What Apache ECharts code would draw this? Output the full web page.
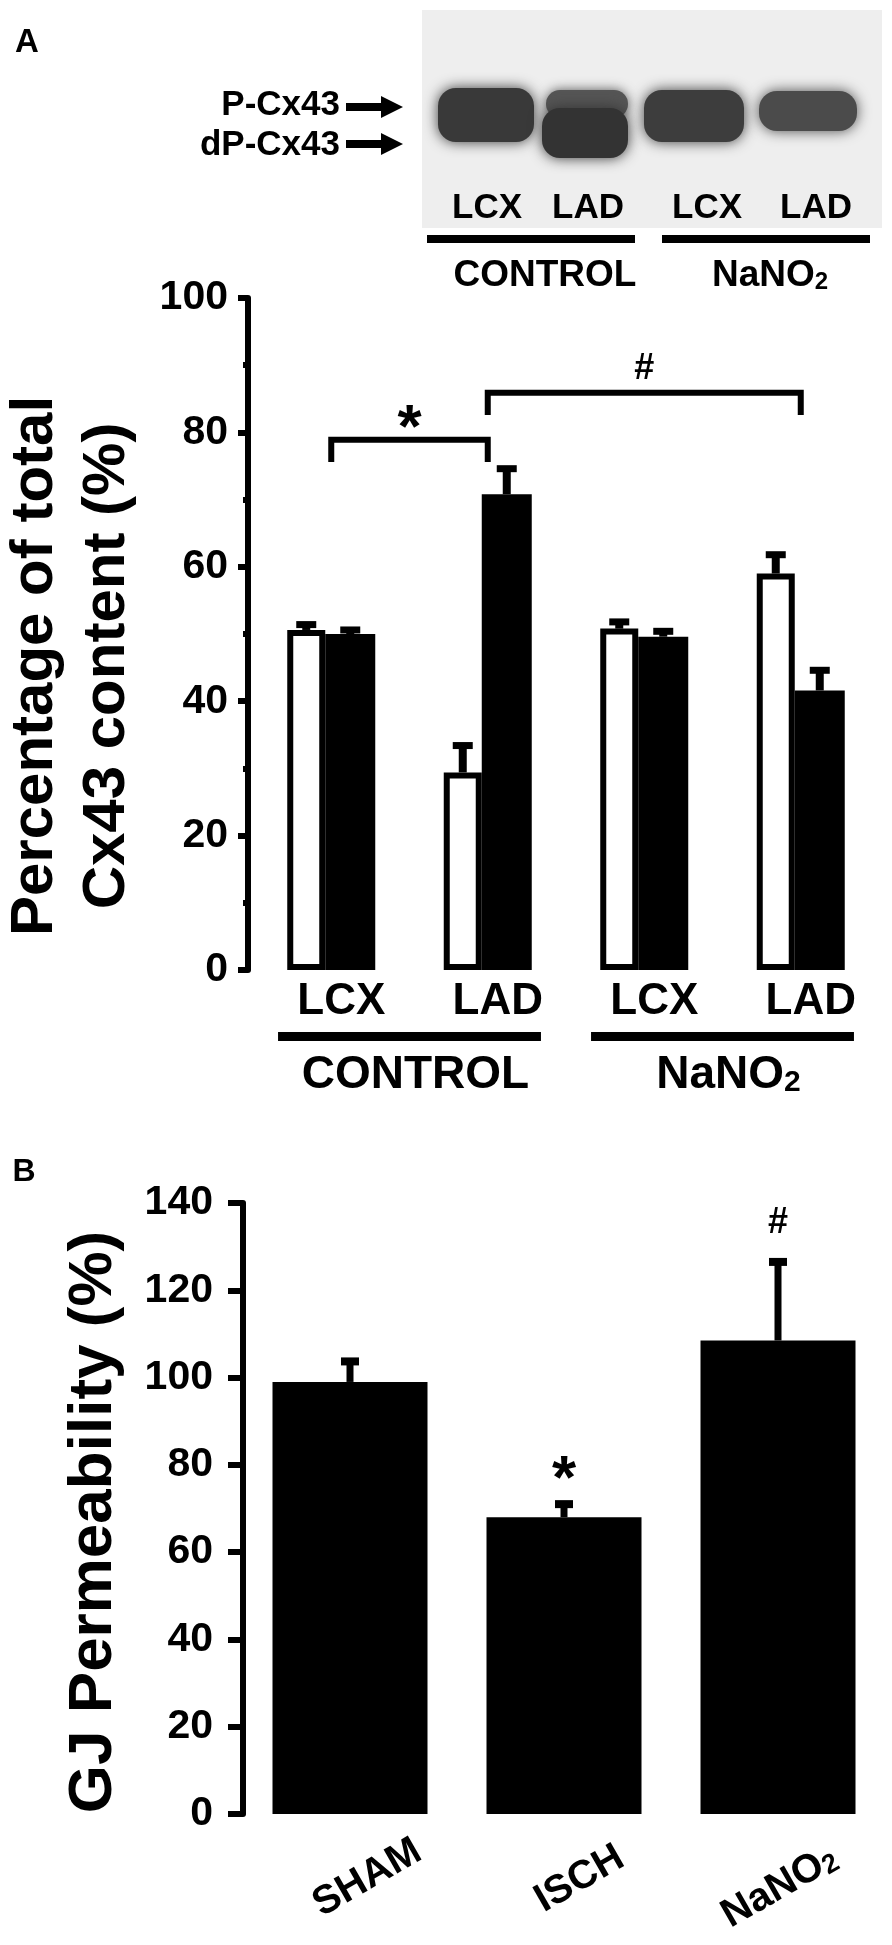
<!DOCTYPE html>
<html>
<head>
<meta charset="utf-8">
<script src="https://cdn.jsdelivr.net/npm/echarts@6/dist/echarts.min.js"></script>
<style>
html,body{margin:0;padding:0;background:#ffffff;}
#chart{width:892px;height:1945px;}
</style>
</head>
<body>
<div id="chart"></div>
<script>
// ---------- Panel A data ----------
const laneCategories = ['LCX', 'LAD', 'LCX', 'LAD'];
const groupNames = ['CONTROL', 'NaNO2'];
const groupFrom = [0, 2];
const groupTo = [1, 3];
const pCx43Values = [50.6, 29.4, 50.8, 59.0];
const pCx43Errors = [0.8, 4.0, 1.0, 2.8];
const dpCx43Values = [50.0, 70.8, 49.6, 41.6];
const dpCx43Errors = [0.6, 3.8, 0.8, 3.0];
const aYTicks = [0, 20, 40, 60, 80, 100];
const aTitleLines = ['Percentage of total', 'Cx43 content (%)'];
const bracketFrom = [0, 1];
const bracketTo = [1, 3];
const bracketLevel = [78.9, 85.9];
const bracketLegEnd = [75.6, 82.6];
const bracketMark = ['*', '#'];
const bracketMarkLevel = [82.4, 89.4];

// ---------- Panel B data ----------
const gjCategories = ['SHAM', 'ISCH', 'NaNO2'];
const gjValues = [99.0, 68.0, 108.5];
const gjErrors = [4.7, 3.0, 18.0];
const gjYTicks = [0, 20, 40, 60, 80, 100, 120, 140];
const bTitle = 'GJ Permeability (%)';
const gjMarkIndex = [1, 2];
const gjMarkLevel = [79.4, 135.4];
const gjMark = ['*', '#'];

// ---------- styling helpers ----------
const F = '"Liberation Sans", Arial, Helvetica, sans-serif';
const gjLabelShift = [40, 36, 4];   // px spacer in front of each rotated label
function markSize(mark) { return mark === '*' ? 62 : 36; }
function markDy(mark, size) { return mark === '*' ? 0.22 * size : 0; }

function band(x, y, w, h, color, blur) {
  return { type: 'rect', silent: true,
    shape: { x: x, y: y, width: w, height: h, r: Math.min(h / 2, 18) },
    style: { fill: color, shadowBlur: blur, shadowColor: color } };
}
function arrow(x0, x1, y) {
  const hx = x1 - 22;
  return { type: 'polygon', silent: true,
    shape: { points: [[x0, y - 4], [hx, y - 4], [hx, y - 11], [x1, y], [hx, y + 11], [hx, y + 4], [x0, y + 4]] },
    style: { fill: '#000' } };
}
function txt(x, y, text, size, align) {
  return { type: 'text', x: x, y: y, silent: true,
    style: { text: text, fontSize: size, fontWeight: 'bold', fontFamily: F, fill: '#000',
      align: align || 'center', verticalAlign: 'middle' } };
}
function vtxt(x, y, text, size, lineHeight) {
  return { type: 'text', x: x, y: y, rotation: Math.PI / 2, silent: true,
    style: { text: text, fontSize: size, fontWeight: 'bold', fontFamily: F, fill: '#000',
      lineHeight: lineHeight, align: 'center', verticalAlign: 'middle' } };
}
function subRich(main, sub, subLH) {
  return {
    m: { fontSize: main, fontWeight: 'bold', fontFamily: F, color: '#000', fill: '#000', lineHeight: main },
    s: { fontSize: sub, fontWeight: 'bold', fontFamily: F, color: '#000', fill: '#000', lineHeight: subLH, verticalAlign: 'bottom' }
  };
}

const blotLaneX = [487, 588, 707, 816];
const graphics = [
  txt(27, 43, 'A', 33),
  txt(24, 1172, 'B', 32),
  // western blot picture
  { type: 'rect', silent: true, shape: { x: 422, y: 10, width: 460, height: 218 }, style: { fill: '#eeeeee' } },
  band(438, 88, 96, 54, '#393939', 14),
  band(546, 90, 82, 28, '#555555', 12),
  band(542, 108, 86, 50, '#333333', 14),
  band(644, 90, 100, 52, '#3d3d3d', 14),
  band(759, 91, 98, 40, '#4b4b4b', 14),
  { type: 'rect', silent: true, shape: { x: 427, y: 235, width: 208, height: 8 }, style: { fill: '#000' } },
  { type: 'rect', silent: true, shape: { x: 662, y: 235, width: 208, height: 8 }, style: { fill: '#000' } },
  txt(545, 276, 'CONTROL', 37),
  { type: 'text', x: 770, y: 276, silent: true,
    style: { text: '{m|NaNO}{s|2}', rich: subRich(37, 24, 14), align: 'center', verticalAlign: 'middle', fill: '#000' } },
  txt(340, 105, 'P-Cx43', 35, 'right'),
  txt(340, 145, 'dP-Cx43', 35, 'right'),
  arrow(346, 403, 107),
  arrow(346, 403, 144),
  // axis titles
  vtxt(71, 666, aTitleLines.join('\n'), 60, 72),
  vtxt(94, 1522, bTitle, 62, 62)
];
laneCategories.forEach(function (name, i) { graphics.push(txt(blotLaneX[i], 208, name, 35)); });

// ---------- render functions ----------
function renderErrA(params, api) {
  const i = api.value(0), v = api.value(1), e = api.value(2), s = api.value(3);
  const base = api.coord([i, v]);
  const top = api.coord([i, v + e]);
  const x = base[0] + (s === 0 ? -25 : 19);
  return { type: 'group', children: [
    { type: 'line', shape: { x1: x, y1: base[1], x2: x, y2: top[1] }, style: { stroke: '#000', lineWidth: 8 } },
    { type: 'line', shape: { x1: x - 10, y1: top[1], x2: x + 10, y2: top[1] }, style: { stroke: '#000', lineWidth: 7 } }
  ] };
}
function renderErrB(params, api) {
  const i = api.value(0), v = api.value(1), e = api.value(2);
  const base = api.coord([i, v]);
  const top = api.coord([i, v + e]);
  const x = base[0];
  return { type: 'group', children: [
    { type: 'line', shape: { x1: x, y1: base[1], x2: x, y2: top[1] }, style: { stroke: '#000', lineWidth: 7 } },
    { type: 'line', shape: { x1: x - 9, y1: top[1], x2: x + 9, y2: top[1] }, style: { stroke: '#000', lineWidth: 8 } }
  ] };
}
function renderBracket(params, api) {
  const k = params.dataIndex;
  const p0 = api.coord([api.value(0), api.value(1)]);
  const p1 = api.coord([api.value(2), api.value(1)]);
  const leg = api.coord([api.value(0), api.value(3)])[1];
  const my = api.coord([api.value(0), api.value(4)])[1];
  const mk = bracketMark[k];
  const fs = markSize(mk);
  return { type: 'group', children: [
    { type: 'polyline', shape: { points: [[p0[0], leg], [p0[0], p0[1]], [p1[0], p1[1]], [p1[0], leg]] },
      style: { stroke: '#000', lineWidth: 6, fill: null } },
    { type: 'text', x: (p0[0] + p1[0]) / 2, y: my + markDy(mk, fs),
      style: { text: mk, fontSize: fs, fontWeight: 'bold', fontFamily: F, fill: '#000', align: 'center', verticalAlign: 'middle' } }
  ] };
}
function renderGroup(params, api) {
  const k = params.dataIndex;
  const c0 = api.coord([api.value(0), 0]);
  const c1 = api.coord([api.value(2), 0]);
  const bw = api.size([1, 0])[0];
  const left = c0[0] - 0.34 * bw, right = c1[0] + 0.34 * bw;
  const name = groupNames[k];
  const label = name === 'NaNO2'
    ? { text: '{m|NaNO}{s|2}', rich: subRich(46, 30, 16) }
    : { text: '{m|' + name + '}', rich: subRich(46, 30, 16) };
  return { type: 'group', children: [
    { type: 'rect', shape: { x: left, y: c0[1] + 62, width: right - left, height: 9 }, style: { fill: '#000' } },
    { type: 'text', x: (left + right) / 2 + 6, y: c0[1] + 105,
      style: Object.assign(label, { align: 'center', verticalAlign: 'middle', fill: '#000' }) }
  ] };
}
function renderMarkB(params, api) {
  const k = params.dataIndex;
  const p = api.coord([api.value(0), api.value(1)]);
  const mk = gjMark[k];
  const fs = markSize(mk);
  return { type: 'text', x: p[0], y: p[1] + markDy(mk, fs),
    style: { text: mk, fontSize: fs, fontWeight: 'bold', fontFamily: F, fill: '#000', align: 'center', verticalAlign: 'middle' } };
}

// ---------- chart ----------
const chart = echarts.init(document.getElementById('chart'), null, { width: 892, height: 1945 });
const tickLabel = { color: '#000', fontFamily: F, fontWeight: 'bold', fontSize: 41 };
const gjRich = { sp0: { width: gjLabelShift[0] }, sp1: { width: gjLabelShift[1] }, sp2: { width: gjLabelShift[2] } };
Object.assign(gjRich, subRich(40, 27, 14));

const option = {
  animation: false,
  backgroundColor: '#ffffff',
  graphic: graphics,
  grid: [
    { left: 253, top: 298, width: 626, height: 672, outerBoundsMode: 'none', containLabel: false },
    { left: 243, top: 1203, width: 642, height: 611, outerBoundsMode: 'none', containLabel: false }
  ],
  xAxis: [
    { gridIndex: 0, type: 'category', data: laneCategories,
      axisLine: { show: false }, axisTick: { show: false }, splitLine: { show: false },
      axisLabel: { color: '#000', fontFamily: F, fontWeight: 'bold', fontSize: 44, lineHeight: 44,
        verticalAlign: 'middle', margin: 32, padding: [0, 0, 0, 20] } },
    { gridIndex: 1, type: 'category', data: gjCategories,
      axisLine: { show: false }, axisTick: { show: false }, splitLine: { show: false },
      axisLabel: { rotate: 30, align: 'center', verticalAlign: 'middle', margin: 74,
        formatter: function (v, idx) {
          const sp = '{sp' + idx + '|}';
          return v === 'NaNO2' ? sp + '{m|NaNO}{s|2}' : sp + '{m|' + v + '}';
        },
        rich: gjRich } }
  ],
  yAxis: [
    { gridIndex: 0, type: 'value', offset: 5,
      min: aYTicks[0], max: aYTicks[aYTicks.length - 1], interval: aYTicks[1] - aYTicks[0],
      axisLine: { show: true, lineStyle: { color: '#000', width: 6 } },
      axisTick: { show: true, length: 10, lineStyle: { color: '#000', width: 6 } },
      minorTick: { show: true, splitNumber: 2, length: 5, lineStyle: { color: '#000', width: 6 } },
      splitLine: { show: false }, minorSplitLine: { show: false },
      axisLabel: Object.assign({ margin: 20 }, tickLabel) },
    { gridIndex: 1, type: 'value',
      min: gjYTicks[0], max: gjYTicks[gjYTicks.length - 1], interval: gjYTicks[1] - gjYTicks[0],
      axisLine: { show: true, lineStyle: { color: '#000', width: 6 } },
      axisTick: { show: true, length: 15, lineStyle: { color: '#000', width: 6 } },
      splitLine: { show: false },
      axisLabel: Object.assign({ margin: 30 }, tickLabel) }
  ],
  series: [
    { type: 'bar', name: 'P-Cx43', xAxisIndex: 0, yAxisIndex: 0, data: pCx43Values,
      barWidth: 38, barGap: '0%', itemStyle: { color: '#ffffff', borderColor: '#000', borderWidth: 6 } },
    { type: 'bar', name: 'dP-Cx43', xAxisIndex: 0, yAxisIndex: 0, data: dpCx43Values,
      barWidth: 50, barGap: '0%', itemStyle: { color: '#000' } },
    { type: 'custom', name: 'A error', xAxisIndex: 0, yAxisIndex: 0, renderItem: renderErrA, encode: { x: 0, y: 1 },
      data: pCx43Values.map(function (v, i) { return [i, v, pCx43Errors[i], 0]; })
        .concat(dpCx43Values.map(function (v, i) { return [i, v, dpCx43Errors[i], 1]; })) },
    { type: 'custom', name: 'A brackets', xAxisIndex: 0, yAxisIndex: 0, renderItem: renderBracket, encode: { x: 0, y: 1 },
      data: bracketFrom.map(function (f, i) { return [f, bracketLevel[i], bracketTo[i], bracketLegEnd[i], bracketMarkLevel[i]]; }) },
    { type: 'custom', name: 'A groups', xAxisIndex: 0, yAxisIndex: 0, renderItem: renderGroup, encode: { x: 0, y: 1 },
      data: groupFrom.map(function (f, i) { return [f, 0, groupTo[i]]; }) },
    { type: 'bar', name: 'GJ permeability', xAxisIndex: 1, yAxisIndex: 1, data: gjValues,
      barWidth: 155, itemStyle: { color: '#000' } },
    { type: 'custom', name: 'B error', xAxisIndex: 1, yAxisIndex: 1, renderItem: renderErrB, encode: { x: 0, y: 1 },
      data: gjValues.map(function (v, i) { return [i, v, gjErrors[i]]; }) },
    { type: 'custom', name: 'B marks', xAxisIndex: 1, yAxisIndex: 1, renderItem: renderMarkB, encode: { x: 0, y: 1 },
      data: gjMarkIndex.map(function (idx, i) { return [idx, gjMarkLevel[i]]; }) }
  ]
};
chart.setOption(option);
</script>
</body>
</html>
